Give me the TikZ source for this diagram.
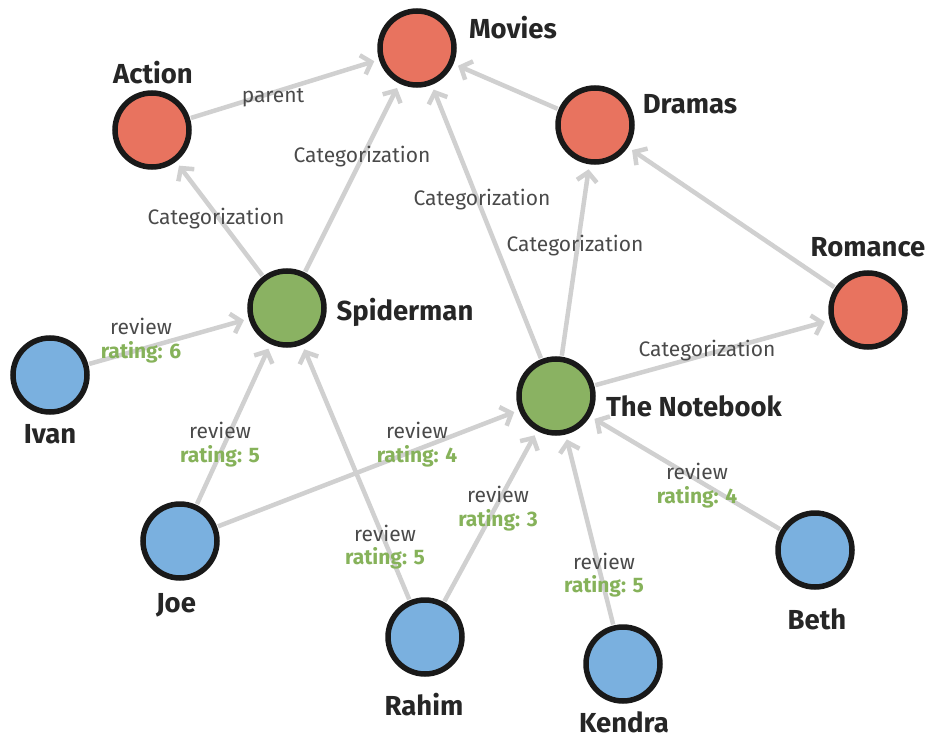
\documentclass[tikz,border=0pt]{standalone}
\usepackage{fontspec}
\setmainfont{Fira Sans}
\usetikzlibrary{arrows.meta}
\definecolor{catred}{HTML}{E8735F}
\definecolor{moviegreen}{HTML}{8AB262}
\definecolor{userblue}{HTML}{7AB0DF}
\definecolor{edgegray}{HTML}{D0D0D0}
\definecolor{labelgray}{HTML}{4A4A4A}
\definecolor{ratinggreen}{HTML}{86B25A}
\begin{document}
\begin{tikzpicture}[x=1pt,y=-1pt,
  vertex/.style={circle,draw=black!90,line width=5.5pt,minimum size=74pt,inner sep=0pt},
  category/.style={vertex,fill=catred},
  movie/.style={vertex,fill=moviegreen},
  user/.style={vertex,fill=userblue},
  title/.style={font=\bfseries\fontsize{27.5}{30}\selectfont,text=black!85,inner sep=0pt},
  rel/.style={draw=edgegray,line width=4.5pt,-{Straight Barb[length=9pt,width=20pt]},shorten >=5pt,shorten <=1pt},
  edgetext/.style={font=\fontsize{21}{24}\selectfont,text=labelgray,inner sep=0pt},
  rating/.style={font=\bfseries\fontsize{21}{24}\selectfont,text=ratinggreen,inner sep=0pt}]

\useasboundingbox (0,0) rectangle (929,741);

% categories
\node[category] (movies)  at (417,48)  {};
\node[category] (action)  at (152,130) {};
\node[category] (dramas)  at (595,125) {};
\node[category] (romance) at (868,310) {};
% movies
\node[movie] (spider)   at (287,308) {};
\node[movie] (notebook) at (556,396) {};
% users
\node[user] (ivan)   at (50,375)  {};
\node[user] (joe)    at (180,541) {};
\node[user] (rahim)  at (425,637) {};
\node[user] (kendra) at (623,664) {};
\node[user] (beth)   at (815,550) {};

% titles
\node[title] (tmovies)   at (513,28)  {Movies};
\node[title] (taction)   at (153,73)  {Action};
\node[title] (tdramas)   at (690,104) {Dramas};
\node[title] (tromance)  at (868,247) {Romance};
\node[title] (tspider)   at (405,312) {Spiderman};
\node[title] (tnotebook) at (694,406) {The Notebook};
\node[title] (tivan)     at (50,434)  {Ivan};
\node[title] (tjoe)      at (176,605) {Joe};
\node[title] (trahim)    at (424,705) {Rahim};
\node[title] (tkendra)   at (624,722) {Kendra};
\node[title] (tbeth)     at (817,619) {Beth};

% relationships
\draw[rel] (action) -- (movies);
\draw[rel] (dramas) -- (movies);
\draw[rel] (romance) -- (dramas);
\draw[rel] (spider) -- (action);
\draw[rel] (spider) -- (movies);
\draw[rel] (notebook) -- (movies);
\draw[rel] (notebook) -- (dramas);
\draw[rel] (notebook) -- (romance);
\draw[rel] (ivan) -- (spider);
\draw[rel] (joe) -- (spider);
\draw[rel] (rahim) -- (spider);
\draw[rel] (joe) -- (notebook);
\draw[rel] (rahim) -- (notebook);
\draw[rel] (kendra) -- (notebook);
\draw[rel] (beth) -- (notebook);

% relationship labels
\node[edgetext] (lparent) at (273,98)  {parent};
\node[edgetext] (lc1) at (362,157) {Categorization};
\node[edgetext] (lc2) at (216,219) {Categorization};
\node[edgetext] (lc3) at (482,200) {Categorization};
\node[edgetext] (lc4) at (575,246) {Categorization};
\node[edgetext] (lc5) at (707,351) {Categorization};

\node[edgetext] (rv1) at (141,326) {review};
\node[rating]   (rt1) at (141,352) {rating: 6};
\node[edgetext] (rv2) at (220,430) {review};
\node[rating]   (rt2) at (220,456) {rating: 5};
\node[edgetext] (rv3) at (417,430) {review};
\node[rating]   (rt3) at (417,456) {rating: 4};
\node[edgetext] (rv4) at (385,533) {review};
\node[rating]   (rt4) at (385,558) {rating: 5};
\node[edgetext] (rv5) at (498,494) {review};
\node[rating]   (rt5) at (498,520) {rating: 3};
\node[edgetext] (rv6) at (604,561) {review};
\node[rating]   (rt6) at (604,586) {rating: 5};
\node[edgetext] (rv7) at (697,471) {review};
\node[rating]   (rt7) at (697,497) {rating: 4};
\end{tikzpicture}
\end{document}
